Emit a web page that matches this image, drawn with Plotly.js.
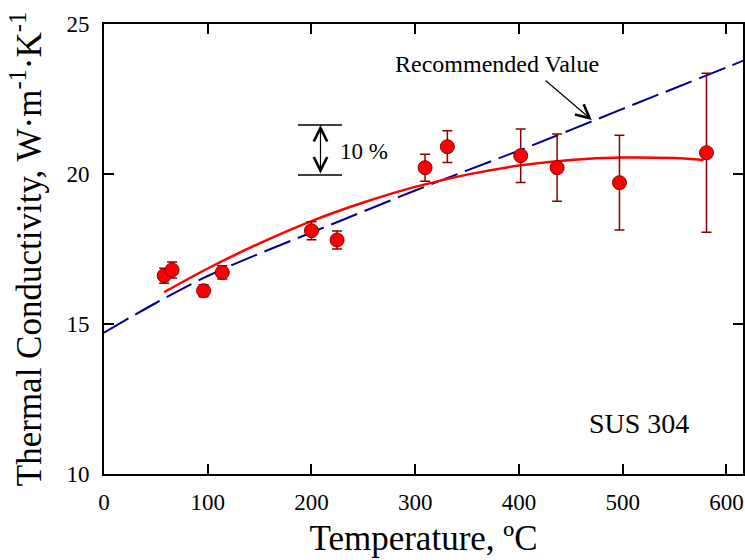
<!DOCTYPE html>
<html>
<head>
<meta charset="utf-8">
<script src="https://cdn.plot.ly/plotly-3.0.1.min.js"></script>
<style>html,body{margin:0;padding:0;background:#fff;}#chart{width:745px;height:560px;}</style>
</head>
<body>
<div id="chart"></div>
<script>
// Measured data (SUS 304)
const measTemp = [58, 65.6, 96, 114, 200, 224.7, 309.5, 331, 401.7, 436.8, 496.9, 580.8];
const measK    = [16.61, 16.8, 16.11, 16.72, 18.11, 17.8, 20.21, 20.91, 20.61, 20.21, 19.71, 20.71];
const measErr  = [0.25, 0.27, 0.2, 0.22, 0.3, 0.3, 0.45, 0.53, 0.89, 1.12, 1.58, 2.65];

// Fitted curve
const fitTemp = [58, 100, 150, 200, 250, 300, 350, 400, 450, 500, 550, 578];
const fitK    = [16.06, 16.85, 17.69, 18.43, 19.05, 19.57, 19.98, 20.28, 20.47, 20.55, 20.53, 20.47];

// Recommended value
const recTemp = [0, 50, 100, 150, 200, 250, 300, 350, 400, 450, 500, 550, 600, 620];
const recK    = [14.71, 15.7, 16.6, 17.35, 18.05, 18.75, 19.45, 20.12, 20.78, 21.47, 22.17, 22.86, 23.55, 23.83];

// Axis ticks
const xTicks = [0, 100, 200, 300, 400, 500, 600];
const yTicks = [10, 15, 20, 25];

const FONT = 'Liberation Serif, Times New Roman, serif';

const traces = [
  {x: recTemp, y: recK, mode: 'lines', type: 'scatter',
   line: {color: '#00008B', width: 2, dash: '28px,8px', shape: 'spline'}, hoverinfo: 'skip'},
  {x: fitTemp, y: fitK, mode: 'lines', type: 'scatter',
   line: {color: '#FF0000', width: 2.5, shape: 'spline'}, hoverinfo: 'skip'},
  {x: measTemp, y: measK, mode: 'markers', type: 'scatter',
   error_y: {type: 'data', array: measErr, visible: true, color: '#8B0000', thickness: 1.5, width: 5},
   marker: {size: 14, color: '#FF0000', line: {color: '#8B0000', width: 1}}}
];

const axisCommon = {
  showgrid: false, zeroline: false, showline: true, linecolor: '#000', linewidth: 2,
  mirror: 'ticks', ticks: 'inside', ticklen: 10, tickwidth: 2, tickcolor: '#000',
  tickfont: {family: FONT, size: 23, color: '#000'}
};

const layout = {
  width: 745, height: 560,
  margin: {l: 104, r: 2, t: 24, b: 86},
  paper_bgcolor: '#fff', plot_bgcolor: '#fff',
  showlegend: false,
  font: {family: FONT, color: '#000'},
  xaxis: Object.assign({}, axisCommon, {
    range: [0, 616], tickvals: xTicks, ticktext: xTicks.map(String),
    ticklabelstandoff: 6,
    title: {text: 'Temperature, ºC', font: {family: FONT, size: 35, color: '#000'}, standoff: 12}
  }),
  yaxis: Object.assign({}, axisCommon, {
    range: [10, 25], tickvals: yTicks, ticktext: yTicks.map(String),
    ticklabelstandoff: 8,
    title: {text: 'Thermal Conductivity, W·m<sup>-1</sup>·K<sup>-1</sup>', font: {family: FONT, size: 35, color: '#000'}, standoff: 14}
  }),
  annotations: [
    {x: 470.2, y: 21.8, xref: 'x', yref: 'y', text: '', showarrow: true,
     ax: -47.7, ay: -40.7, arrowhead: 5, arrowsize: 2.2, arrowwidth: 1.2, arrowcolor: '#000'},
    {x: 378.9, y: 23.67, xref: 'x', yref: 'y', text: 'Recommended Value', showarrow: false,
     font: {family: FONT, size: 24, color: '#000'}},
    {x: 250.6, y: 20.74, xref: 'x', yref: 'y', text: '10 %', showarrow: false,
     font: {family: FONT, size: 23, color: '#000'}},
    {x: 516.2, y: 11.7, xref: 'x', yref: 'y', text: 'SUS 304', showarrow: false,
     font: {family: FONT, size: 28, color: '#000'}},
    {x: 208.7, y: 21.63, xref: 'x', yref: 'y', ax: 208.7, ay: 19.97, axref: 'x', ayref: 'y',
     text: '', showarrow: true, arrowhead: 5, startarrowhead: 5, arrowside: 'end+start',
     arrowsize: 2.2, startarrowsize: 2.2, arrowwidth: 1.2, arrowcolor: '#000'}
  ],
  shapes: [
    {type: 'line', xref: 'x', yref: 'y', x0: 187, x1: 229.4, y0: 21.63, y1: 21.63, line: {color: '#000', width: 1.5}},
    {type: 'line', xref: 'x', yref: 'y', x0: 187, x1: 229.4, y0: 19.97, y1: 19.97, line: {color: '#000', width: 1.5}}
  ]
};

Plotly.newPlot('chart', traces, layout, {staticPlot: true, displayModeBar: false});
</script>
</body>
</html>
